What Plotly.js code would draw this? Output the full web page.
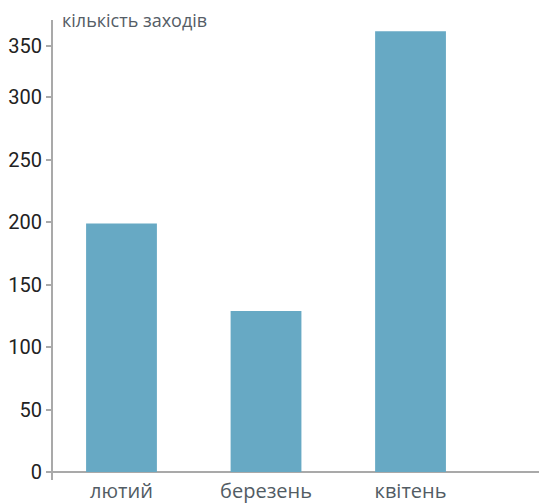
<!DOCTYPE html>
<html>
<head>
<meta charset="utf-8">
<script src="https://cdn.plot.ly/plotly-3.0.1.min.js"></script>
<style>html,body{margin:0;padding:0;background:#fff;}#chart{width:539px;height:504px;}</style>
</head>
<body>
<div id="chart"></div>
<script>
var months = ["лютий", "березень", "квітень"];
var eventCounts = [199, 129, 353];
var yTickValues = [0, 50, 100, 150, 200, 250, 300, 341];
var yTickLabels = ["0", "50", "100", "150", "200", "250", "300", "350"];
var yAxisLabel = "кількість заходів";

var trace = {
  type: "bar",
  x: months,
  y: eventCounts,
  width: 0.49,
  marker: {color: "#67a9c4"},
  hoverinfo: "x+y"
};

var layout = {
  width: 539,
  height: 504,
  margin: {l: 53, r: 0, t: 20, b: 24, pad: 0},
  paper_bgcolor: "#ffffff",
  plot_bgcolor: "#ffffff",
  showlegend: false,
  xaxis: {
    type: "category",
    range: [-0.474, 2.889],
    showline: false,
    showgrid: false,
    zeroline: false,
    ticks: "",
    automargin: false,
    ticklabelstandoff: -3,
    tickfont: {family: "Open Sans", size: 20, color: "#525c64"}
  },
  yaxis: {
    range: [-6.4, 362],
    showline: true,
    linecolor: "#a9a9a9",
    linewidth: 2,
    showgrid: false,
    zeroline: true,
    zerolinecolor: "#a9a9a9",
    zerolinewidth: 2,
    ticks: "outside",
    ticklen: 5,
    tickwidth: 1.5,
    tickcolor: "#a9a9a9",
    tickmode: "array",
    tickvals: yTickValues,
    ticktext: yTickLabels,
    automargin: false,
    tickfont: {family: "Roboto", size: 20, color: "#222222"}
  },
  annotations: [{
    text: yAxisLabel,
    xref: "paper", yref: "paper",
    x: 0, y: 1,
    xanchor: "left", yanchor: "middle",
    xshift: 7,
    showarrow: false,
    font: {family: "Open Sans", size: 18, color: "#555d66"}
  }]
};

Plotly.newPlot("chart", [trace], layout, {displayModeBar: false, responsive: false});
</script>
</body>
</html>
